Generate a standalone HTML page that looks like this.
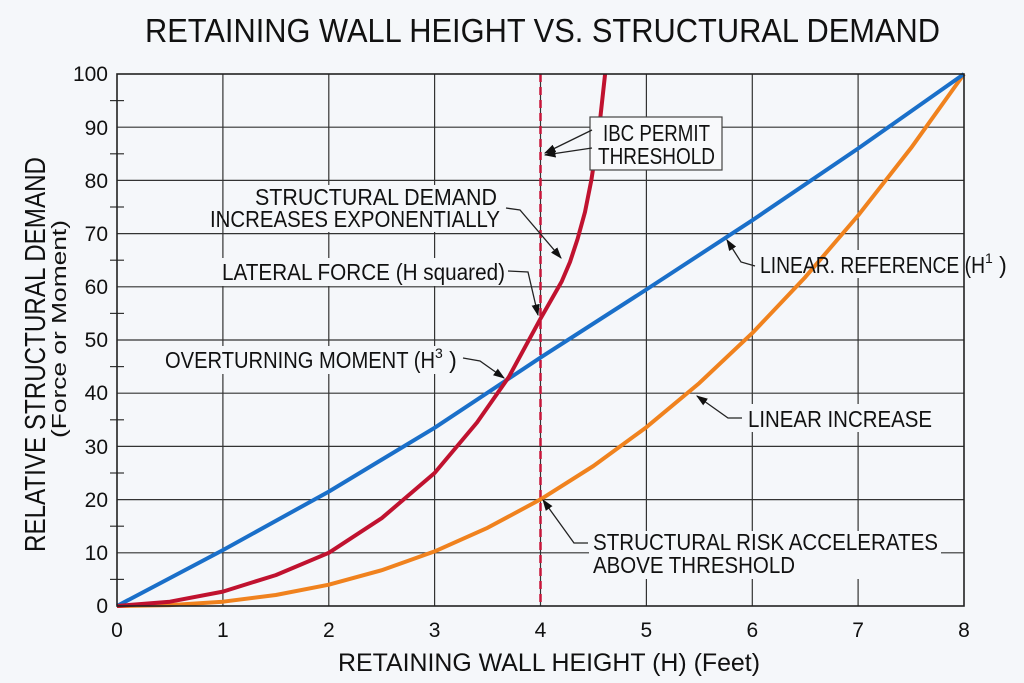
<!DOCTYPE html>
<html><head><meta charset="utf-8"><style>
html,body{margin:0;padding:0;background:#f5f7fa;}
svg{display:block;font-family:"Liberation Sans",Arial,sans-serif;}
</style></head><body>
<svg width="1024" height="683" viewBox="0 0 1024 683" xmlns="http://www.w3.org/2000/svg">
<defs><marker id="ar" viewBox="0 0 10 10" refX="9" refY="5" markerWidth="9" markerHeight="9" orient="auto"><path d="M0,1.5 L10,5 L0,8.5 z" fill="#111"/></marker></defs>
<rect width="1024" height="683" fill="#f5f7fa"/>
<text x="145" y="42" font-size="33" fill="#111" textLength="795" lengthAdjust="spacingAndGlyphs">RETAINING WALL HEIGHT VS. STRUCTURAL DEMAND</text>
<g stroke="#333" stroke-width="1.2">
<line x1="222.9" y1="74" x2="222.9" y2="606"/><line x1="328.8" y1="74" x2="328.8" y2="606"/><line x1="434.6" y1="74" x2="434.6" y2="606"/><line x1="540.5" y1="74" x2="540.5" y2="606"/><line x1="646.4" y1="74" x2="646.4" y2="606"/><line x1="752.3" y1="74" x2="752.3" y2="606"/><line x1="858.1" y1="74" x2="858.1" y2="606"/>
<line x1="117" y1="552.8" x2="964" y2="552.8"/><line x1="117" y1="499.6" x2="964" y2="499.6"/><line x1="117" y1="446.4" x2="964" y2="446.4"/><line x1="117" y1="393.2" x2="964" y2="393.2"/><line x1="117" y1="340" x2="964" y2="340"/><line x1="117" y1="286.8" x2="964" y2="286.8"/><line x1="117" y1="233.6" x2="964" y2="233.6"/><line x1="117" y1="180.4" x2="964" y2="180.4"/><line x1="117" y1="127.2" x2="964" y2="127.2"/>
<line x1="110" y1="579.4" x2="124" y2="579.4"/><line x1="110" y1="526.2" x2="124" y2="526.2"/><line x1="110" y1="473" x2="124" y2="473"/><line x1="110" y1="419.8" x2="124" y2="419.8"/><line x1="110" y1="366.6" x2="124" y2="366.6"/><line x1="110" y1="313.4" x2="124" y2="313.4"/><line x1="110" y1="260.2" x2="124" y2="260.2"/><line x1="110" y1="207" x2="124" y2="207"/><line x1="110" y1="153.8" x2="124" y2="153.8"/><line x1="110" y1="100.6" x2="124" y2="100.6"/>
</g>
<g fill="#f5f7fa">
<rect x="252" y="185" width="248" height="47"/>
<rect x="206" y="258" width="302" height="28"/>
<rect x="160" y="346" width="302" height="28"/>
<rect x="756" y="250" width="262" height="28"/>
<rect x="744" y="404" width="192" height="28"/>
<rect x="589" y="531" width="352" height="48"/>
</g>
<g font-size="21" fill="#111" text-anchor="end">
<text x="108" y="613">0</text><text x="108" y="560">10</text><text x="108" y="507">20</text><text x="108" y="454">30</text><text x="108" y="400">40</text><text x="108" y="347">50</text><text x="108" y="294">60</text><text x="108" y="241">70</text><text x="108" y="188">80</text><text x="108" y="135">90</text><text x="108" y="81">100</text>
</g>
<g font-size="21" fill="#111" text-anchor="middle">
<text x="117" y="637">0</text><text x="222.9" y="637">1</text><text x="328.8" y="637">2</text><text x="434.6" y="637">3</text><text x="540.5" y="637">4</text><text x="646.4" y="637">5</text><text x="752.3" y="637">6</text><text x="858.1" y="637">7</text><text x="964" y="637">8</text>
</g>
<text transform="translate(45,552) rotate(-90)" font-size="29" fill="#111" textLength="395" lengthAdjust="spacingAndGlyphs">RELATIVE STRUCTURAL DEMAND</text>
<text transform="translate(66,438) rotate(-90)" font-size="20" fill="#111" textLength="218" lengthAdjust="spacingAndGlyphs">(Force or Moment)</text>
<text x="338" y="671" font-size="25" fill="#111" textLength="422" lengthAdjust="spacingAndGlyphs">RETAINING WALL HEIGHT (H) (Feet)</text>
<line x1="540.5" y1="74" x2="540.5" y2="606" stroke="#c8163a" stroke-width="2.5" stroke-dasharray="8,5"/>
<polyline fill="none" stroke="#f0821e" stroke-width="4" stroke-linejoin="round" points="117,606 169.9,605.1 222.9,601.7 275.8,595.0 328.8,584.7 381.7,570.2 434.6,551.4 487.6,527.8 540.5,499.4 593.4,466.0 646.4,427.2 699.3,383.1 752.3,333.1 805.2,277.2 858.1,215.5 911.1,147.9 964,74"/>
<polyline fill="none" stroke="#1a6fc9" stroke-width="4" stroke-linejoin="round" points="117,606 222.9,550.1 328.8,491.6 434.6,427.8 540.5,357.6 646.4,289.5 752.3,220.3 858.1,148.5 964,74"/>
<polyline fill="none" stroke="#c0122f" stroke-width="4" stroke-linejoin="round" points="117,606 169.9,601.7 222.9,591.6 275.8,575.1 328.8,552.8 381.7,518.2 434.6,473.0 477.0,422.5 508.7,377.2 540.5,318.7 561.7,281.5 570,262 577.6,238.9 585,212 591.3,180.4 598.7,132.5 605.1,74"/>
<g font-size="23" fill="#111">
<rect x="590" y="117" width="132" height="53" fill="#f8f9fb" stroke="#444" stroke-width="1.2"/>
<text x="603" y="141" textLength="107" lengthAdjust="spacingAndGlyphs">IBC PERMIT</text>
<text x="598" y="164" textLength="117" lengthAdjust="spacingAndGlyphs">THRESHOLD</text>
<text x="255" y="205" textLength="242" lengthAdjust="spacingAndGlyphs">STRUCTURAL DEMAND</text>
<text x="210" y="227" textLength="290" lengthAdjust="spacingAndGlyphs">INCREASES EXPONENTIALLY</text>
<text x="222" y="280" textLength="283" lengthAdjust="spacingAndGlyphs">LATERAL FORCE (H squared)</text>
<text x="165" y="368"><tspan textLength="270" lengthAdjust="spacingAndGlyphs">OVERTURNING MOMENT (H</tspan><tspan font-size="14" dy="-10">3</tspan><tspan dy="10"> )</tspan></text>
<text x="760" y="273"><tspan textLength="225" lengthAdjust="spacingAndGlyphs">LINEAR. REFERENCE (H</tspan><tspan font-size="14" dy="-10">1</tspan><tspan dy="10"> )</tspan></text>
<text x="748" y="427" textLength="184" lengthAdjust="spacingAndGlyphs">LINEAR INCREASE</text>
<text x="593" y="550" textLength="345" lengthAdjust="spacingAndGlyphs">STRUCTURAL RISK ACCELERATES</text>
<text x="593" y="573" textLength="202" lengthAdjust="spacingAndGlyphs">ABOVE THRESHOLD</text>
</g>
<g fill="none" stroke="#222" stroke-width="1.3" marker-end="url(#ar)">
<polyline points="592,130 545,153"/>
<polyline points="592,148 545,155"/>
<polyline points="506,208 520,210 561,258"/>
<polyline points="508,271 528,272 538,315"/>
<polyline points="463,358 480,361 504,378"/>
<polyline points="755,266 741,262 727,240"/>
<polyline points="742,418 728,418 697,396"/>
<polyline points="588,543 574,543 543,500"/>
</g>
<rect x="117" y="74" width="847" height="532" fill="none" stroke="#222" stroke-width="1.6"/>
</svg>
</body></html>
